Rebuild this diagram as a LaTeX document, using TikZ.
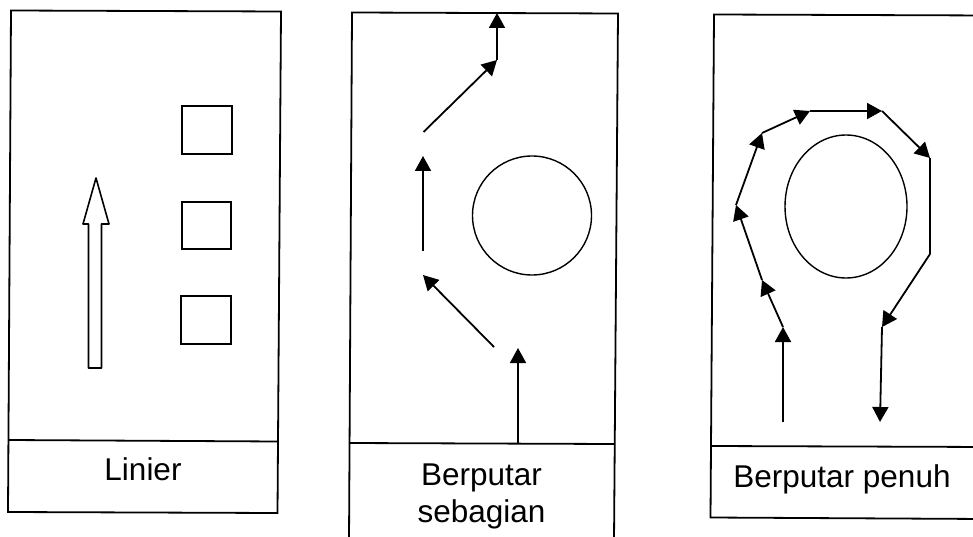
\documentclass[tikz,border=0pt]{standalone}
\usepackage{fontspec}
\setmainfont{Liberation Sans}
\usetikzlibrary{arrows.meta,shapes.geometric}
\begin{document}
\begin{tikzpicture}[x=1pt,y=-1pt,
  frame/.style={line width=1.8pt, line join=miter},
  flow/.style={line width=1.8pt, -{Triangle[length=15pt,width=16pt]}},
  plain/.style={line width=1.8pt},
  obstacle/.style={draw, line width=1.4pt, inner sep=0pt},
  lbltext/.style={font=\fontsize{31.5}{38}\selectfont, anchor=base, inner sep=0pt}]
\useasboundingbox (0,0) rectangle (973,537);
\clip (0,0) rectangle (973,537);

% ---- Linier ----
\draw[frame] (11,10.5) -- (281,11.5) -- (277.5,513) -- (8,512) -- cycle;
\draw[frame] (8.4,440) -- (278,441.5);
\node[obstacle, minimum width=50pt, minimum height=48pt] (sq1) at (207,130) {};
\node[obstacle, minimum width=49pt, minimum height=47pt] (sq2) at (206.5,225.5) {};
\node[obstacle, minimum width=50pt, minimum height=48pt] (sq3) at (206,320) {};
% hollow arrow
\draw[line width=1.6pt, line join=round]
  (88.5,368) -- (88.5,224) -- (83,224) -- (96,178) -- (109,224)
  -- (101.5,224) -- (101.5,368) -- cycle;
\node[lbltext] (lbl1) at (143,480) {Linier};

% ---- Berputar sebagian (frame runs past the lower edge) ----
\draw[frame] (352,12.5) -- (618,13.5) -- (614,541) -- (349,541) -- cycle;
\draw[frame] (349.5,443) -- (614.7,444);
\node[obstacle, circle, minimum size=119pt] (rock2) at (532,215.5) {};
\coordinate (a0) at (518,443);
\coordinate (a1) at (518,348);
\coordinate (b0) at (494,347);
\coordinate (b1) at (423,275);
\coordinate (c0) at (423,251);
\coordinate (c1) at (423,156);
\coordinate (d0) at (423.5,132);
\coordinate (d1) at (497,60);
\coordinate (d2) at (497,13);
\draw[flow] (a0) -- (a1);
\draw[flow] (b0) -- (b1);
\draw[flow] (c0) -- (c1);
\draw[flow] (d0) -- (d1);
\draw[flow] (d1) -- (d2);
\node[lbltext] (lbl2a) at (481.5,485) {Berputar};
\node[lbltext] (lbl2b) at (481.5,522) {sebagian};

% ---- Berputar penuh (frame runs past the right edge) ----
\draw[frame] (714,14.5) -- (990,15.5) -- (986,519) -- (710.5,517.5) -- cycle;
\draw[frame] (711,446) -- (990,447);
\node[obstacle, ellipse, minimum width=122pt, minimum height=143pt] (rock3) at (846,206.5) {};
\coordinate (p0) at (783,422);
\coordinate (p1) at (783,327);
\coordinate (p2) at (762,280);
\coordinate (p3) at (736,205);
\coordinate (p4) at (762,133);
\coordinate (p5) at (810,111);
\coordinate (p6) at (882,111);
\coordinate (p7) at (930,158);
\coordinate (p8) at (930,254);
\coordinate (p9) at (882,327);
\coordinate (p10) at (880,422);
\draw[flow] (p0) -- (p1);
\draw[flow] (p1) -- (p2);
\draw[flow] (p2) -- (p3);
\draw[flow] (p3) -- (p4);
\draw[flow] (p4) -- (p5);
\draw[flow] (p5) -- (p6);
\draw[flow] (p6) -- (p7);
\draw[plain] (p7) -- (p8);
\draw[flow] (p8) -- (p9);
\draw[flow] (p9) -- (p10);
\node[lbltext] (lbl3) at (842,487) {Berputar penuh};
\end{tikzpicture}
\end{document}
